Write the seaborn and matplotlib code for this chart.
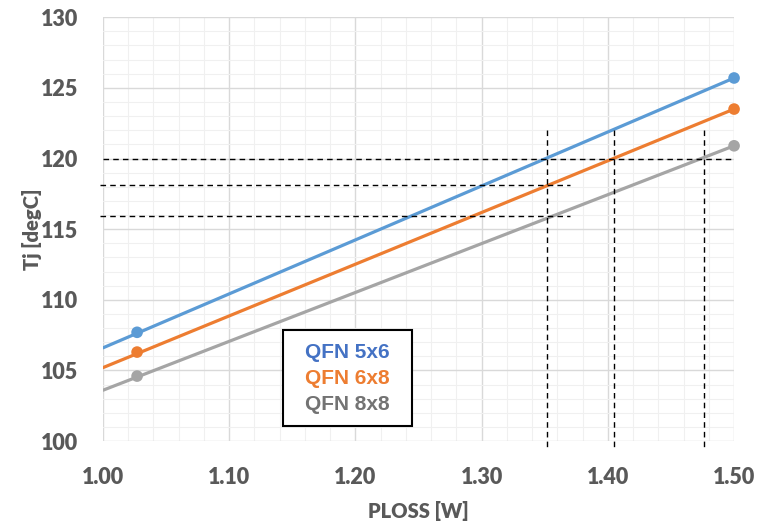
import matplotlib
matplotlib.use("Agg")
import matplotlib.pyplot as plt
from matplotlib.ticker import MultipleLocator, FormatStrFormatter
import seaborn as sns
import pandas as pd

# ---- data ----
packages = ["QFN 5x6", "QFN 6x8", "QFN 8x8"]
point_ploss = [1.027, 1.50]
tj_5x6 = [107.7, 125.7]
tj_6x8 = [106.3, 123.5]
tj_8x8 = [104.6, 120.9]
trend_ploss = [1.00, 1.50]
trend_5x6 = [106.6, 125.7]
trend_6x8 = [105.2, 123.5]
trend_8x8 = [103.6, 120.9]

# reference (dashed) lines
h_levels = [120.0, 118.1, 115.9]
h_starts = [1.00, 0.998, 0.998]
h_ends = [1.50, 1.37, 1.37]
v_ploss = [1.352, 1.405, 1.476]
v_top = 122.0

line_colors = ["#5B9BD5", "#ED7D31", "#A5A5A5"]
text_colors = ["#4472C4", "#ED7D31", "#737373"]

pts = pd.DataFrame({
    "PLOSS": point_ploss * 3,
    "Tj": tj_5x6 + tj_6x8 + tj_8x8,
    "pkg": [p for p in packages for _ in point_ploss],
})
trend = pd.DataFrame({
    "PLOSS": trend_ploss * 3,
    "Tj": trend_5x6 + trend_6x8 + trend_8x8,
    "pkg": [p for p in packages for _ in trend_ploss],
})

sns.set_style("white")
plt.rcParams["font.family"] = ["Lato", "DejaVu Sans"]

fig = plt.figure(figsize=(7.71, 5.22), dpi=100)
ax = fig.add_axes([0.1336, 0.155, 0.8185, 0.812])

palette = dict(zip(packages, line_colors))
sns.lineplot(data=trend, x="PLOSS", y="Tj", hue="pkg", palette=palette,
             linewidth=2.3, legend=False, ax=ax, zorder=3)
sns.scatterplot(data=pts, x="PLOSS", y="Tj", hue="pkg", palette=palette,
                s=70, edgecolor="none", legend=False, ax=ax, zorder=4,
                clip_on=False)

# dashed guide lines
for x0, lvl, xe in zip(h_starts, h_levels, h_ends):
    ax.plot([x0, xe], [lvl, lvl], color="black",
            lw=1.0, ls=(0, (4, 3)), zorder=5, clip_on=False)
for xv in v_ploss:
    ax.plot([xv, xv], [v_top, 99.5], color="black", lw=1.0,
            ls=(0, (4, 3)), zorder=5, clip_on=False)

ax.set_xlim(1.00, 1.50)
ax.set_ylim(100, 130)
ax.xaxis.set_major_locator(MultipleLocator(0.10))
ax.xaxis.set_minor_locator(MultipleLocator(0.02))
ax.yaxis.set_major_locator(MultipleLocator(5))
ax.yaxis.set_minor_locator(MultipleLocator(1))
ax.xaxis.set_major_formatter(FormatStrFormatter("%.2f"))
ax.grid(which="major", color="#D9D9D9", lw=1.0, zorder=0)
ax.grid(which="minor", color="#F0F0F0", lw=0.8, zorder=0)
ax.set_axisbelow(True)
for s in ax.spines.values():
    s.set_visible(False)
ax.tick_params(which="both", length=0)
ax.tick_params(axis="both", labelsize=15.5, labelcolor="#595959")
ax.tick_params(axis="y", pad=18)
ax.tick_params(axis="x", pad=19)
for lab in ax.get_xticklabels() + ax.get_yticklabels():
    lab.set_fontweight("heavy")

ax.set_xlabel("PLOSS [W]", fontsize=14.5, fontweight="heavy", color="#595959",
              labelpad=9)
ax.set_ylabel("Tj [degC]", fontsize=14.5, fontweight="heavy", color="#595959",
              labelpad=-1)

# text legend box
bx0, by0 = 283 / 771, 1 - 426 / 522
bw, bh = (412 - 283) / 771, (426 - 330) / 522
fig.patches.append(plt.Rectangle((bx0, by0), bw, bh, transform=fig.transFigure,
                                 facecolor="white", edgecolor="black", lw=1.5,
                                 zorder=10))
for i, (name, col) in enumerate(zip(packages, text_colors)):
    fig.text((283 + 412) / 2 / 771, 1 - (353 + 26 * i) / 522, name,
             color=col, fontsize=15, fontweight="bold",
             family=["Liberation Sans", "DejaVu Sans"],
             ha="center", va="center", zorder=11)

fig.savefig("out.png", dpi=100)
